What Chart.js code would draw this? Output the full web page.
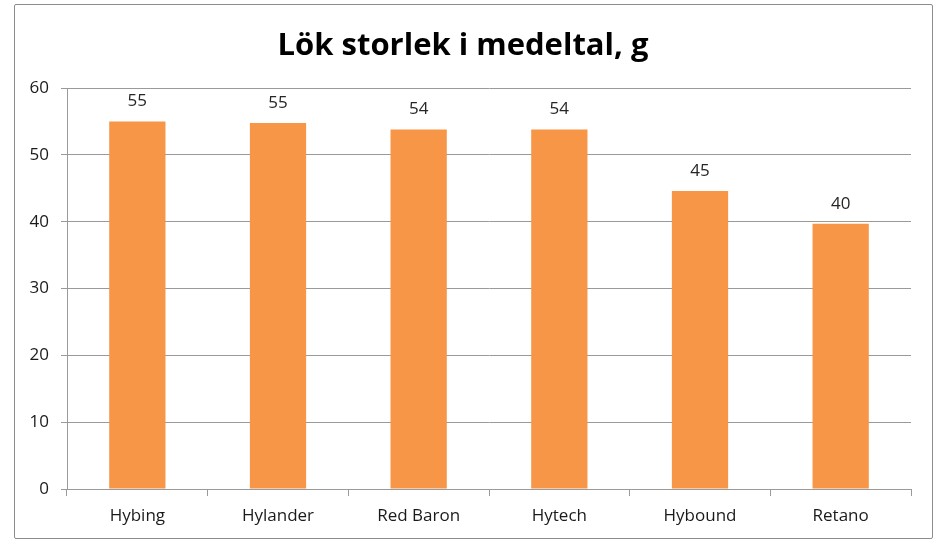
<!DOCTYPE html>
<html>
<head>
<meta charset="utf-8">
<script src="https://cdn.jsdelivr.net/npm/chart.js@4.4.1/dist/chart.umd.min.js"></script>
<style>
    html, body { margin: 0; padding: 0; background: #ffffff; }
    #frame {
        position: absolute; left: 14px; top: 4px;
        width: 919px; height: 535px; box-sizing: border-box;
        border: 1px solid #8c8c8c; border-radius: 2px; background: #fff;
    }
    #bulbChart { display: block; }
</style>
</head>
<body>
<div id="frame">
    <canvas id="bulbChart" width="917" height="533"></canvas>
</div>
<script>
const chartTitle = 'Lök storlek i medeltal, g';
const varieties = ['Hybing', 'Hylander', 'Red Baron', 'Hytech', 'Hybound', 'Retano'];
const avgSize = [55.0, 54.8, 53.8, 53.8, 44.6, 39.7];
const yTicks = [0, 10, 20, 30, 40, 50, 60];

const FONT = "'Open Sans', 'Liberation Sans', sans-serif";
const GRID = '#9a9a9a';

// labels above each bar, rounded like the original
const valueLabels = {
    id: 'valueLabels',
    afterDatasetsDraw(chart) {
        const ctx = chart.ctx;
        const meta = chart.getDatasetMeta(0);
        ctx.save();
        ctx.font = `17px ${FONT}`;
        ctx.fillStyle = '#262626';
        ctx.textAlign = 'center';
        ctx.textBaseline = 'middle';
        meta.data.forEach((bar, i) => {
            ctx.fillText(Math.round(avgSize[i]), bar.x, bar.y - 20);
        });
        ctx.restore();
    }
};

document.addEventListener('DOMContentLoaded', () => {
    const ctx = document.getElementById('bulbChart').getContext('2d');
    new Chart(ctx, {
        type: 'bar',
        data: {
            labels: varieties,
            datasets: [{
                data: avgSize,
                backgroundColor: '#F79646',
                borderWidth: 0,
                barPercentage: 0.4,
                categoryPercentage: 1.0
            }]
        },
        options: {
            responsive: false,
            animation: false,
            layout: { padding: { left: 0, right: 21, top: 0, bottom: 0 } },
            scales: {
                x: {
                    grid: { display: true, drawOnChartArea: false, drawTicks: true, tickLength: 7, color: GRID, offset: true },
                    border: { display: true, color: GRID, width: 1 },
                    ticks: { color: '#1a1a1a', font: { family: FONT, size: 17 }, padding: 10, maxRotation: 0 },
                    afterFit: (scale) => { scale.height = 49; }
                },
                y: {
                    min: 0,
                    max: 60,
                    afterBuildTicks: (scale) => { scale.ticks = yTicks.map(v => ({ value: v })); },
                    grid: { color: GRID, tickLength: 6, drawTicks: true },
                    border: { display: true, color: GRID, width: 1 },
                    ticks: { color: '#1a1a1a', font: { family: FONT, size: 17 }, padding: 12 },
                    afterFit: (scale) => { scale.width = 52; }
                }
            },
            plugins: {
                legend: { display: false },
                tooltip: { enabled: false },
                title: {
                    display: true,
                    text: chartTitle,
                    color: '#000000',
                    font: { family: FONT, size: 31, weight: 'bold' },
                    padding: { top: 23, bottom: 23 }
                }
            }
        },
        plugins: [valueLabels]
    });
});
</script>
</body>
</html>
